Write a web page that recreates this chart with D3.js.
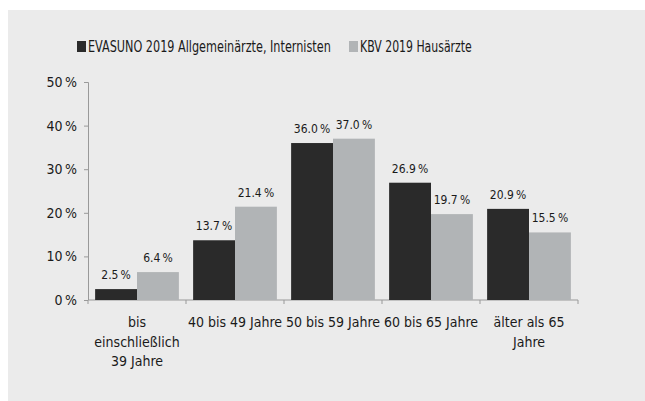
<!DOCTYPE html>
<html>
<head>
<meta charset="utf-8">
<script src="https://cdn.jsdelivr.net/npm/d3@7"></script>
<style>
  body { margin: 0; background: #fff; }
  text { font-family: "DejaVu Sans Condensed", "Liberation Sans Narrow", sans-serif; fill: #1a1a1a; }
</style>
</head>
<body>
<div id="chart"></div>
<script>
var categories = [["bis", "einschließlich", "39 Jahre"], ["40 bis 49 Jahre"], ["50 bis 59 Jahre"], ["60 bis 65 Jahre"], ["älter als 65", "Jahre"]];
var seriesNames = ["EVASUNO 2019 Allgemeinärzte, Internisten", "KBV 2019 Hausärzte"];
var evasuno = [2.5, 13.7, 36.0, 26.9, 20.9];
var kbv = [6.4, 21.4, 37.0, 19.7, 15.5];
var yTicks = [0, 10, 20, 30, 40, 50];
var colors = ["#2a2a2a", "#b1b4b6"];

var W = 645, H = 401;
var margin = { top: 82, right: 67, bottom: 101, left: 88 };
var width = W - margin.left - margin.right;
var height = H - margin.top - margin.bottom;

var svgRoot = d3.select("#chart").append("svg")
  .attr("width", W).attr("height", H);

svgRoot.append("rect")
  .attr("x", 8).attr("y", 10).attr("width", 637).attr("height", 391)
  .attr("fill", "#ebebeb");

var svg = svgRoot.append("g")
  .attr("transform", "translate(" + margin.left + "," + margin.top + ")");

var x = d3.scaleBand().domain(d3.range(categories.length)).range([0, width]).paddingInner(0).paddingOuter(0);
var x1 = d3.scaleBand().domain([0, 1]).range([0, x.bandwidth()]).paddingOuter(0.17).paddingInner(0);
var y = d3.scaleLinear().domain([0, 50]).range([height, 0]);

// Achsen
var yAxis = svg.append("g")
  .call(d3.axisLeft(y).tickValues(yTicks).tickSize(4).tickPadding(7).tickFormat(function(d) { return d + "\u2009%"; }));
yAxis.select(".domain").attr("stroke", "#999").attr("d", "M-4,0.5H0.5V" + height);
yAxis.selectAll(".tick line").attr("stroke", "#999");
yAxis.selectAll(".tick text").attr("font-size", "14px").attr("fill", "#1a1a1a")
  .attr("font-family", "DejaVu Sans Condensed");

var xAxis = svg.append("g").attr("transform", "translate(0," + height + ")");
xAxis.append("line").attr("x1", 0).attr("x2", width).attr("stroke", "#999");
xAxis.selectAll(".xt").data(d3.range(categories.length + 1)).enter().append("line")
  .attr("x1", function(d) { return d * x.bandwidth(); })
  .attr("x2", function(d) { return d * x.bandwidth(); })
  .attr("y1", 0).attr("y2", 4).attr("stroke", "#999");

xAxis.selectAll(".xl").data(categories).enter().append("text")
  .attr("text-anchor", "middle")
  .attr("font-size", "14px")
  .attr("transform", function(d, i) { return "translate(" + (x(i) + x.bandwidth() / 2) + ",27)"; })
  .each(function(d) {
    var t = d3.select(this);
    d.forEach(function(line, j) {
      t.append("tspan").attr("x", 0).attr("y", j * 19.5).text(line);
    });
  });

// Balken
var data = categories.map(function(c, i) { return [evasuno[i], kbv[i]]; });
var groups = svg.selectAll(".grp").data(data).enter().append("g")
  .attr("transform", function(d, i) { return "translate(" + x(i) + ",0)"; });

groups.selectAll("rect").data(function(d) { return d; }).enter().append("rect")
  .attr("x", function(d, j) { return x1(j); })
  .attr("width", x1.bandwidth())
  .attr("y", function(d) { return y(d); })
  .attr("height", function(d) { return height - y(d); })
  .attr("fill", function(d, j) { return colors[j]; });

groups.selectAll(".val").data(function(d) { return d; }).enter().append("text")
  .attr("x", function(d, j) { return x1(j) + x1.bandwidth() / 2; })
  .attr("y", function(d) { return y(d) - 10; })
  .attr("text-anchor", "middle")
  .attr("font-size", "12px")
  .text(function(d) { return d.toFixed(1) + "\u2009%"; });

// Legende (Text horizontal gestaucht, damit die Breite passt)
var legendX = [77, 349];
var legendLen = [243, 112];
var legend = svgRoot.selectAll(".leg").data(seriesNames).enter().append("g")
  .attr("transform", function(d, i) { return "translate(" + legendX[i] + ",47)"; });
legend.append("rect").attr("x", 0).attr("y", -6).attr("width", 9).attr("height", 11)
  .attr("fill", function(d, i) { return colors[i]; });
legend.append("text").attr("font-size", "15px")
  .text(function(d) { return d; })
  .attr("transform", function(d, i) {
    var w = this.getComputedTextLength();
    return "translate(11,5) scale(" + (legendLen[i] / w) + ",1)";
  });
</script>
</body>
</html>
